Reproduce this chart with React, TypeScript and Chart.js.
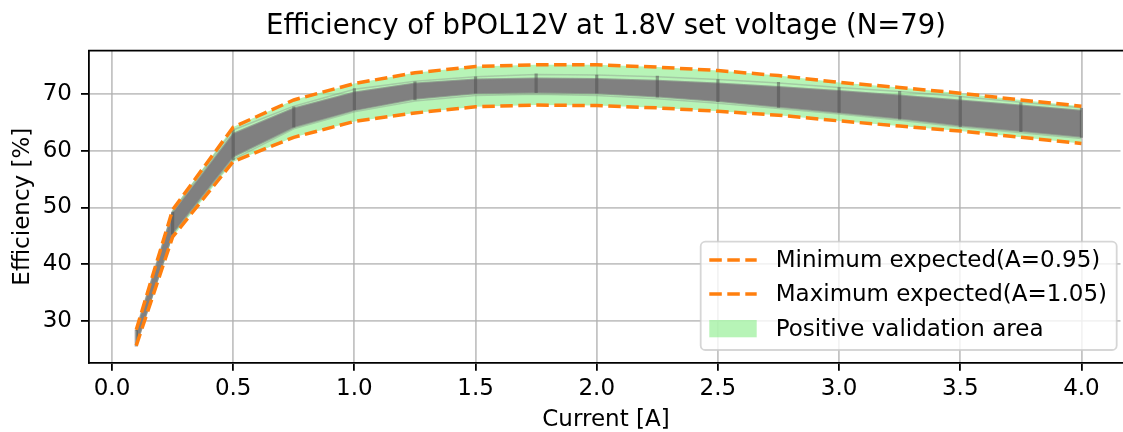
import { useEffect, useRef } from "react";
import { Chart, registerables } from "chart.js";

Chart.register(...registerables);

// ---- data ----
const currents = [0.1, 0.25, 0.5, 0.75, 1.0, 1.25, 1.5, 1.75, 2.0, 2.25, 2.5, 2.75, 3.0, 3.25, 3.5, 3.75, 4.0];
const maxExpected = [28.4, 49.6, 64.2, 69.0, 71.9, 73.8, 74.9, 75.2, 75.2, 74.8, 74.2, 73.3, 72.1, 71.2, 70.2, 69.0, 67.9];
const minExpected = [25.6, 44.8, 58.1, 62.4, 65.2, 66.7, 67.8, 68.1, 68.0, 67.6, 67.0, 66.3, 65.3, 64.4, 63.5, 62.4, 61.3];
const bandTop = [28.2, 49.0, 63.0, 67.5, 70.3, 71.9, 72.6, 72.8, 72.7, 72.4, 71.9, 71.3, 70.6, 69.8, 68.9, 68.0, 67.1];
const bandBottom = [25.8, 45.5, 59.0, 64.2, 67.2, 69.2, 70.2, 70.3, 70.2, 69.6, 68.8, 67.8, 66.8, 65.7, 64.5, 63.5, 62.5];
const unitHigh = [28.6, 49.4, 63.7, 67.9, 70.9, 72.3, 73.1, 73.5, 73.4, 73.1, 72.6, 72.0, 71.2, 70.5, 69.6, 68.6, 67.6];
const unitLow = [25.6, 45.3, 58.5, 63.9, 66.9, 68.8, 69.8, 70.0, 69.8, 69.2, 68.4, 67.5, 66.5, 65.4, 64.2, 63.2, 62.2];
const markerTop = [28.3, 49.2, 63.7, 67.8, 71.0, 72.2, 73.1, 73.6, 73.4, 73.2, 72.6, 72.1, 71.2, 70.5, 69.6, 68.5, 67.5];
const markerBottom = [25.5, 45.3, 58.4, 64.2, 67.3, 69.0, 70.2, 70.3, 70.2, 69.5, 68.7, 67.7, 66.8, 65.6, 64.3, 63.4, 62.4];
const legendLabels = ["Minimum expected(A=0.95)", "Maximum expected(A=1.05)", "Positive validation area"];
const titleText = "Efficiency of bPOL12V at 1.8V set voltage (N=79)";
const xAxisLabel = "Current [A]";
const yAxisLabel = "Efficiency [%]";

const ORANGE = "#ff7f0e";
const GREEN = "rgba(144,238,144,0.65)";
const GRID = "rgba(176,176,176,0.75)";
const FONT = "'DejaVu Sans'";
const DASH = [12.5, 5.5];

const framePlugin = {
  id: "frameAndLegend",
  afterDraw(chart: any) {
    const ctx = chart.ctx as CanvasRenderingContext2D;
    const ca = chart.chartArea;
    ctx.save();
    // keep the far right column clean (the axes continue beyond the picture)
    ctx.fillStyle = "#fff";
    ctx.fillRect(chart.width - 2.5, ca.top + 1, 3, ca.bottom - ca.top - 2);
    // top spine
    ctx.strokeStyle = "#000";
    ctx.lineWidth = 1.8;
    ctx.beginPath();
    ctx.moveTo(ca.left - 0.9, ca.top);
    ctx.lineTo(chart.width, ca.top);
    ctx.stroke();

    // legend (matplotlib style, lower right)
    const boxW = 416;
    const boxH = 108.3;
    const boxRight = 1116.7;
    const boxBottom = ca.bottom - 12.7;
    const bx = boxRight - boxW;
    const by = boxBottom - boxH;
    ctx.beginPath();
    (ctx as any).roundRect(bx, by, boxW, boxH, 4.6);
    ctx.fillStyle = "rgba(255,255,255,0.8)";
    ctx.fill();
    ctx.strokeStyle = "rgba(204,204,204,0.8)";
    ctx.lineWidth = 1.8;
    ctx.stroke();

    const rows = [by + 18.3, by + 52.3, by + 86.9];
    const hx0 = bx + 8.6;
    const hx1 = bx + 56;
    ctx.font = `23px ${FONT}`;
    ctx.textBaseline = "middle";
    ctx.textAlign = "left";
    for (let i = 0; i < 3; i++) {
      const y = rows[i];
      if (i < 2) {
        ctx.strokeStyle = ORANGE;
        ctx.lineWidth = 3.5;
        ctx.setLineDash(DASH);
        ctx.beginPath();
        ctx.moveTo(hx0, y);
        ctx.lineTo(hx1, y);
        ctx.stroke();
        ctx.setLineDash([]);
      } else {
        ctx.fillStyle = GREEN;
        ctx.fillRect(hx0, y - 8.6, hx1 - hx0, 17.3);
      }
      ctx.fillStyle = "#000";
      ctx.fillText(legendLabels[i], bx + 75, y + 1);
    }
    ctx.restore();
  },
};

export default function App() {
  const ref = useRef<HTMLCanvasElement>(null);

  useEffect(() => {
    const canvas = ref.current;
    if (!canvas) return;
    Chart.defaults.font.family = FONT;
    Chart.defaults.color = "#000";
    const pts = (ys: number[]) => currents.map((x, i) => ({ x, y: ys[i] }));
    const base = { pointRadius: 0, pointHoverRadius: 0, tension: 0, fill: false };

    const chart = new Chart(canvas, {
      type: "line",
      data: {
        datasets: [
          { ...base, label: legendLabels[1], data: pts(maxExpected), borderColor: ORANGE, borderWidth: 3.5, borderDash: DASH, order: 0 },
          { ...base, label: legendLabels[0], data: pts(minExpected), borderColor: ORANGE, borderWidth: 3.5, borderDash: DASH, order: 1 },
          {
            type: "bar",
            label: "markers",
            data: currents.map((x, i) => ({ x, y: [markerBottom[i], markerTop[i]] })),
            backgroundColor: "rgba(75,75,75,0.5)",
            barThickness: 2.5,
            order: 2,
          } as any,
          { ...base, label: "unit high", data: pts(unitHigh), borderColor: "rgba(128,128,128,0.35)", borderWidth: 1.5, order: 3 },
          { ...base, label: "unit low", data: pts(unitLow), borderColor: "rgba(128,128,128,0.35)", borderWidth: 1.5, order: 3 },
          { ...base, label: "units top", data: pts(bandTop), borderColor: "rgba(128,128,128,0.7)", borderWidth: 2, fill: 6, backgroundColor: "rgb(128,128,128)", order: 4 },
          { ...base, label: "units bottom", data: pts(bandBottom), borderColor: "rgba(128,128,128,0.7)", borderWidth: 2, order: 5 },
          { ...base, label: legendLabels[2], data: pts(maxExpected), borderColor: "rgba(0,0,0,0)", borderWidth: 0, fill: 8, backgroundColor: GREEN, order: 8 },
          { ...base, label: "area lower", data: pts(minExpected), borderColor: "rgba(0,0,0,0)", borderWidth: 0, order: 9 },
        ],
      },
      options: {
        responsive: false,
        animation: false,
        devicePixelRatio: 1,
        events: [],
        layout: { padding: { left: 0, right: 0, top: 0, bottom: 0 } },
        plugins: {
          legend: { display: false },
          tooltip: { enabled: false },
          filler: { propagate: false, drawTime: "beforeDatasetsDraw" },
          title: {
            display: true,
            text: titleText,
            color: "#000",
            fullSize: false,
            font: { size: 27.5, weight: "normal", lineHeight: 1.2 },
            padding: { top: 10.5, bottom: 7.2 },
          },
        },
        scales: {
          x: {
            type: "linear",
            min: -0.095,
            max: 4.1715,
            offset: false,
            grid: { color: GRID, lineWidth: 1.8, drawTicks: true, tickLength: 8, tickColor: "#000", tickWidth: 1.8, offset: false },
            border: { display: true, color: "#000", width: 1.8 },
            ticks: {
              stepSize: 0.5,
              includeBounds: false,
              autoSkip: false,
              maxRotation: 0,
              padding: 7,
              color: "#000",
              font: { size: 23, lineHeight: 1 },
              callback: (v: any) => Number(v).toFixed(1),
            },
            title: { display: true, text: xAxisLabel, color: "#000", font: { size: 23, lineHeight: 1 }, padding: { top: 0, bottom: 0 } },
            afterFit: (s: any) => {
              s.height = 69.3;
            },
          },
          y: {
            type: "linear",
            min: 22.58,
            max: 77.7,
            beginAtZero: false,
            grid: { color: GRID, lineWidth: 1.8, drawTicks: true, tickLength: 8, tickColor: "#000", tickWidth: 1.8 },
            border: { display: true, color: "#000", width: 1.8 },
            ticks: {
              stepSize: 10,
              includeBounds: false,
              padding: 9,
              color: "#000",
              font: { size: 23, lineHeight: 1 },
              callback: (v: any) => Number(v).toFixed(0),
            },
            title: { display: true, text: yAxisLabel, color: "#000", font: { size: 23, lineHeight: 1 }, padding: { top: 11.5, bottom: 0 } },
            afterFit: (s: any) => {
              s.width = 89;
            },
          },
        },
      } as any,
      plugins: [framePlugin],
    });
    return () => chart.destroy();
  }, []);

  return (
    <div style={{ position: "fixed", left: 0, top: 0, width: 1123, height: 432, overflow: "hidden", background: "#fff" }}>
      <canvas ref={ref} width={1123} height={432} style={{ display: "block", width: 1123, height: 432 }} />
    </div>
  );
}
